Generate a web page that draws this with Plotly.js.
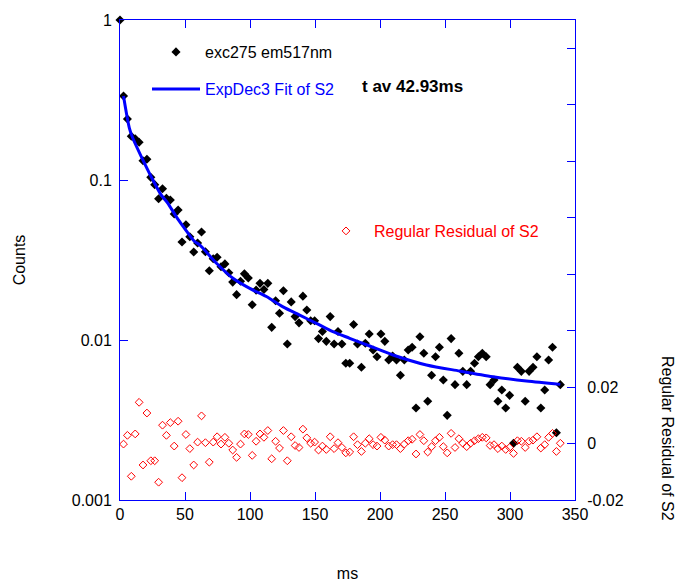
<!DOCTYPE html>
<html>
<head>
<meta charset="utf-8">
<script src="https://cdn.plot.ly/plotly-3.0.1.min.js"></script>
<style>html,body{margin:0;padding:0;background:#fff;}#chart{width:681px;height:582px;}</style>
</head>
<body>
<div id="chart"></div>
<script>
// ---- data ----
const timeMs = [2.7, 5.7, 8.7, 11.7, 14.7, 17.7, 20.7, 23.7, 26.7, 29.7,
  32.7, 35.7, 38.7, 41.7, 44.7, 47.7, 50.7, 53.7, 56.7, 59.7,
  62.7, 65.7, 68.7, 71.7, 74.7, 77.7, 80.7, 83.7, 86.7, 89.7,
  92.7, 95.7, 98.7, 101.7, 104.7, 107.7, 110.7, 113.7, 116.7, 119.7,
  122.7, 125.7, 128.7, 131.7, 134.7, 137.7, 140.7, 143.7, 146.7, 149.7,
  152.7, 155.7, 158.7, 161.7, 164.7, 167.7, 170.7, 173.7, 176.7, 179.7,
  182.7, 185.7, 188.7, 191.7, 194.7, 197.7, 200.7, 203.7, 206.7, 209.7,
  212.7, 215.7, 218.7, 221.7, 224.7, 227.7, 230.7, 233.7, 236.7, 239.7,
  242.7, 245.7, 248.7, 251.7, 254.7, 257.7, 260.7, 263.7, 266.7, 269.7,
  272.7, 275.7, 278.7, 281.7, 284.7, 287.7, 290.7, 293.7, 296.7, 299.7,
  302.7, 305.7, 308.7, 311.7, 314.7, 317.7, 320.7, 323.7, 326.7, 329.7,
  332.7, 335.7, 338.7];

const firstTime = 0;
const firstCount = 1;

const counts = [0.335, 0.2405, 0.1875, 0.1812, 0.172, 0.132, 0.1347, 0.1039, 0.0935, 0.0764,
  0.0882, 0.0769, 0.075, 0.0613, 0.0649, 0.041, 0.0525, 0.0442, 0.0355, 0.0404,
  0.0473, 0.0356, 0.0271, 0.0322, 0.0329, 0.0287, 0.0299, 0.0263, 0.023, 0.0192,
  0.0233, 0.0259, 0.0244, 0.0166, 0.0205, 0.0226, 0.0207, 0.0226, 0.012, 0.0176,
  0.0147, 0.0203, 0.00944, 0.0173, 0.014, 0.0128, 0.0188, 0.0154, 0.0132, 0.0132,
  0.0102, 0.0113, 0.00981, 0.014, 0.00944, 0.0113, 0.00944, 0.00715, 0.00715, 0.0125,
  0.00944, 0.00675, 0.00954, 0.0109, 0.00866, 0.00786, 0.0109, 0.00981, 0.0075, 0.00794,
  0.0075, 0.00602, 0.0075, 0.00866, 0.00901, 0.00376, 0.01048, 0.00826, 0.00414, 0.00602,
  0.00786, 0.00901, 0.00562, 0.00338, 0.0102, 0.00526, 0.00826, 0.00637, 0.00526, 0.00637,
  0.00715, 0.00786, 0.00826, 0.00786, 0.00526, 0.00562, 0.00414, 0.00487, 0.00376, 0.00451,
  0.00226, 0.00675, 0.00637, 0.00414, 0.00637, 0.00675, 0.00786, 0.00376, 0.00487, 0.0075,
  0.00901, 0.00263, 0.00526];

const residuals = [-0.0002, 0.0029, -0.0116, 0.0034, 0.0146, -0.0076, 0.0108, -0.0061, -0.0061, -0.0137,
  0.0065, 0.0029, 0.0074, -0.0009, 0.0079, -0.0121, 0.0032, -0.0018, -0.0076, 0.0005,
  0.0098, 0.0003, -0.0066, 0.0005, 0.0024, -0.0002, 0.0022, 0.0001, -0.0023, -0.0049,
  -0.0002, 0.0034, 0.0032, -0.0042, 0.0008, 0.0034, 0.0022, 0.0046, -0.0054, 0.0008,
  -0.0016, 0.0046, -0.0061, 0.0024, -0.0007, -0.0014, 0.0051, 0.0020, 0.0001, 0.0005,
  -0.0023, -0.0009, -0.0021, 0.0024, -0.0018, 0.0003, -0.0014, -0.0033, -0.0030, 0.0024,
  -0.0004, -0.0028, 0.0001, 0.0017, -0.0004, -0.0009, 0.0022, 0.0012, -0.0009, -0.0004,
  -0.0004, -0.0018, -0.0002, 0.0010, 0.0015, -0.0037, 0.0032, 0.0010, -0.0030, -0.0011,
  0.0010, 0.0022, -0.0011, -0.0033, 0.0036, -0.0014, 0.0017, 0.0001, -0.0011, 0.0001,
  0.0010, 0.0017, 0.0022, 0.0020, -0.0007, -0.0004, -0.0018, -0.0009, -0.0021, -0.0014,
  -0.0035, 0.0010, 0.0008, -0.0014, 0.0008, 0.0012, 0.0024, -0.0016, -0.0004, 0.0022,
  0.0036, -0.0028, 0.0001];

const fitTime = [2.7, 7.2, 9.8, 17.5, 23.8, 31.5, 36.7, 43.1, 49.5, 57.2, 61.3, 74.2, 86.9, 99.8,
  112.6, 125.4, 138.2, 151.1, 163.8, 176.7, 192.1, 210, 235.7, 261.3, 286.9, 312.6, 338.7];
const fitCounts = [0.335, 0.2113, 0.183, 0.134, 0.1055, 0.081, 0.0718, 0.0593, 0.0501, 0.0414, 0.0393,
  0.0302, 0.0243, 0.021, 0.0187, 0.0161, 0.0143, 0.0127, 0.01127, 0.01025, 0.00917, 0.00806,
  0.00698, 0.0064, 0.0059, 0.00554, 0.00528];

const xTickVals = [0, 50, 100, 150, 200, 250, 300, 350];
const yTickVals = [0.001, 0.01, 0.1, 1];
const yTickText = ['0.001', '0.01', '0.1', '1'];
const y2TickVals = [-0.02, 0, 0.02, 0.04, 0.06, 0.08, 0.1, 0.12, 0.14];
const y2TickText = ['-0.02', '0', '0.02', '', '', '', '', '', ''];

const seriesNames = ['exc275 em517nm', 'ExpDec3 Fit of S2', 'Regular Residual of S2'];
const tauText = 't av 42.93ms';

// ---- chart ----
const BLUE = '#0000ff';
const RED = '#ff0000';
const FONT = 'Arial, "Liberation Sans", sans-serif';

const traces = [
  {
    x: [firstTime].concat(timeMs), y: [firstCount].concat(counts),
    type: 'scatter', mode: 'markers', name: seriesNames[0],
    marker: {symbol: 'diamond', size: 7, color: '#000000'},
    cliponaxis: false, legend: 'legend'
  },
  {
    x: fitTime, y: fitCounts, type: 'scatter', mode: 'lines', name: seriesNames[1],
    line: {color: BLUE, width: 3, shape: 'spline', smoothing: 0.8}, legend: 'legend2'
  },
  {
    x: timeMs, y: residuals, yaxis: 'y2', type: 'scatter', mode: 'markers', name: seriesNames[2],
    marker: {symbol: 'diamond-open', size: 6, color: RED, line: {width: 1, color: RED}},
    cliponaxis: false, legend: 'legend3'
  }
];

const axisCommon = {
  showline: true, linecolor: BLUE, linewidth: 1,
  ticks: 'inside', ticklen: 8, tickcolor: BLUE, tickwidth: 1,
  showgrid: false, zeroline: false,
  tickfont: {family: FONT, size: 16, color: '#000'}
};

const layout = {
  width: 681, height: 582,
  margin: {l: 120, r: 106, t: 20, b: 82, pad: 0},
  paper_bgcolor: '#ffffff', plot_bgcolor: '#ffffff',
  font: {family: FONT, size: 16, color: '#000'},
  showlegend: true,
  xaxis: Object.assign({}, axisCommon, {
    range: [0, 350], tickvals: xTickVals, mirror: 'ticks',
    title: {text: 'ms', standoff: 45, font: {family: FONT, size: 16, color: '#000'}}
  }),
  yaxis: Object.assign({}, axisCommon, {
    type: 'log', range: [-3, 0], tickvals: yTickVals, ticktext: yTickText,
    ticklabelstandoff: 4,
    title: {text: 'Counts', standoff: 42, font: {family: FONT, size: 16, color: '#000'}}
  }),
  yaxis2: Object.assign({}, axisCommon, {
    overlaying: 'y', side: 'right', range: [-0.02, 0.15],
    tickvals: y2TickVals, ticktext: y2TickText, ticklabelstandoff: 8
  }),
  legend: {x: (147 - 120) / 455, y: (500 - 52) / 480, xanchor: 'left', yanchor: 'middle',
    bgcolor: 'rgba(0,0,0,0)', borderwidth: 0, itemwidth: 48,
    font: {family: FONT, size: 16, color: '#000'}},
  legend2: {x: (147 - 120) / 455, y: (500 - 89) / 480, xanchor: 'left', yanchor: 'middle',
    bgcolor: 'rgba(0,0,0,0)', borderwidth: 0, itemwidth: 48,
    font: {family: FONT, size: 16, color: BLUE}},
  legend3: {x: (318 - 120) / 455, y: (500 - 231) / 480, xanchor: 'left', yanchor: 'middle',
    bgcolor: 'rgba(0,0,0,0)', borderwidth: 0, itemwidth: 46,
    font: {family: FONT, size: 16, color: RED}},
  annotations: [
    {text: '<b>' + tauText + '</b>', xref: 'paper', yref: 'paper',
     x: (360 - 120) / 455, y: (500 - 87) / 480, xanchor: 'left', yanchor: 'middle',
     showarrow: false, font: {family: FONT, size: 17, color: '#000'}},
    {text: 'Regular Residual of S2', xref: 'paper', yref: 'paper',
     x: (668 - 120) / 455, y: (500 - 438) / 480, xanchor: 'center', yanchor: 'middle',
     textangle: 90, showarrow: false, font: {family: FONT, size: 16, color: '#000'}}
  ]
};

Plotly.newPlot('chart', traces, layout, {displayModeBar: false, staticPlot: true});
</script>
</body>
</html>
